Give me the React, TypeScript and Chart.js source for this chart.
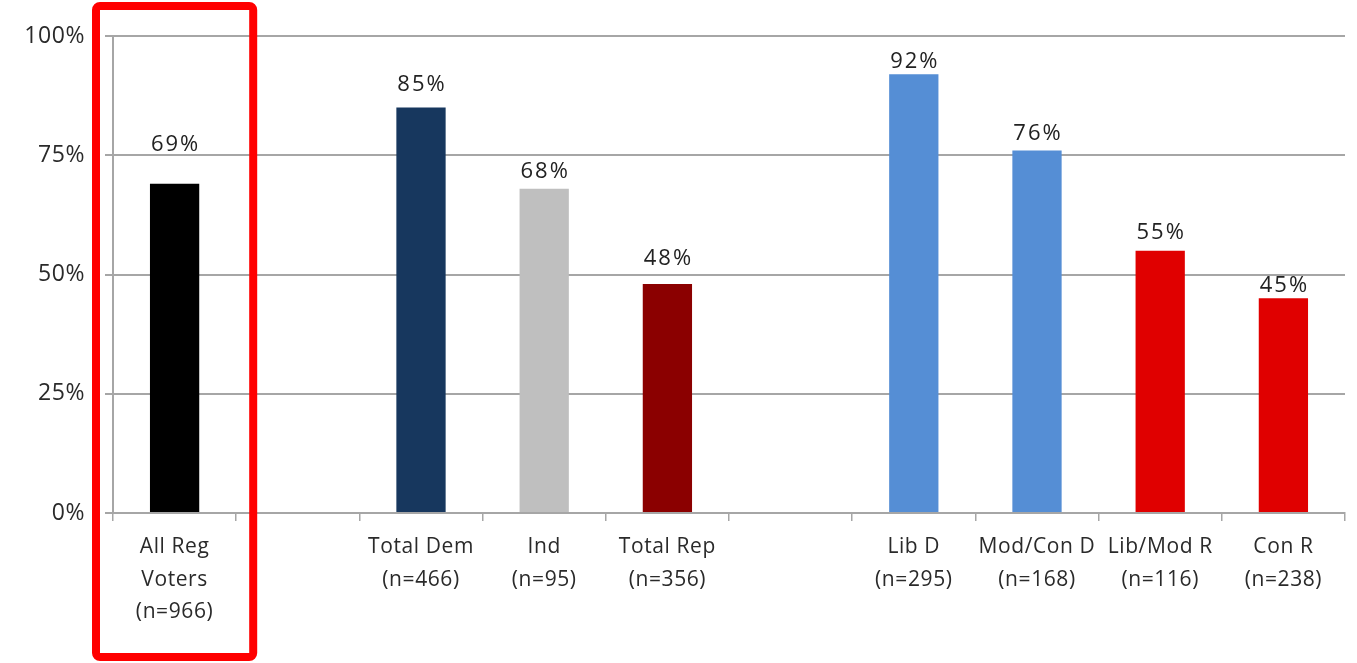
import React, { useEffect, useRef } from "react";
import { Chart, registerables } from "chart.js";

Chart.register(...registerables);

// Categories (blank slots separate the groups)
const categories: (string | string[])[] = [
  ["All Reg", "Voters", "(n=966)"],
  "",
  ["Total Dem", "(n=466)"],
  ["Ind", "(n=95)"],
  ["Total Rep", "(n=356)"],
  "",
  ["Lib D", "(n=295)"],
  ["Mod/Con D", "(n=168)"],
  ["Lib/Mod R", "(n=116)"],
  ["Con R", "(n=238)"],
];

// Percent values per category
const values: (number | null)[] = [69, null, 85, 68, 48, null, 92, 76, 55, 45];

// Bar colours per category
const barColors: string[] = [
  "#000000",
  "transparent",
  "#17375e",
  "#bfbfbf",
  "#8b0000",
  "transparent",
  "#558ed5",
  "#558ed5",
  "#e00000",
  "#e00000",
];

// Distance (px) from a bar's top to the centre of its value label
const labelLift: number[] = [39, 0, 23, 17, 25, 0, 12, 17, 18, 13];

const yTicks: number[] = [0, 25, 50, 75, 100];

const FONT = "'Open Sans', 'Noto Sans', sans-serif";

// Slightly wider tracking for all axis text
const tracking = {
  id: "tracking",
  beforeDraw(chart: any) {
    chart.ctx.letterSpacing = "0.6px";
  },
};

const valueLabels = {
  id: "valueLabels",
  afterDatasetsDraw(chart: any) {
    const ctx = chart.ctx;
    const meta = chart.getDatasetMeta(0);
    ctx.save();
    ctx.font = `22px ${FONT}`;
    ctx.letterSpacing = "2px";
    ctx.fillStyle = "#222222";
    ctx.textAlign = "center";
    ctx.textBaseline = "middle";
    meta.data.forEach((bar: any, i: number) => {
      const v = values[i];
      if (v == null) return;
      ctx.fillText(`${v}%`, bar.x + 1, bar.y - labelLift[i]);
    });
    ctx.restore();
  },
};

// Red highlight frame around the first category
const highlightFrame = {
  id: "highlightFrame",
  afterDraw(chart: any) {
    const ctx = chart.ctx;
    const x = chart.scales.x;
    const half = (x.getPixelForValue(1) - x.getPixelForValue(0)) / 2;
    const cx = x.getPixelForValue(0);
    const left = cx - half - 17;
    const right = cx + half + 17;
    ctx.save();
    ctx.strokeStyle = "#ff0000";
    ctx.lineWidth = 8;
    ctx.beginPath();
    ctx.roundRect(left, 6, right - left, 651, 4);
    ctx.stroke();
    ctx.restore();
  },
};

export default function App() {
  const canvasRef = useRef<HTMLCanvasElement | null>(null);

  useEffect(() => {
    document.body.style.margin = "0";
    const canvas = canvasRef.current;
    if (!canvas) return;
    const chart = new Chart(canvas, {
      type: "bar",
      data: {
        labels: categories,
        datasets: [
          {
            data: values,
            backgroundColor: barColors,
            barPercentage: 0.4,
            categoryPercentage: 1,
          },
        ],
      },
      options: {
        animation: false,
        responsive: false,
        maintainAspectRatio: false,
        layout: { padding: { top: 36, right: 12, left: 0, bottom: 0 } },
        plugins: {
          legend: { display: false },
          tooltip: { enabled: false },
        },
        scales: {
          x: {
            grid: {
              display: true,
              drawOnChartArea: false,
              offset: true,
              tickLength: 8,
              color: "#a6a6a6",
              lineWidth: 1.5,
            },
            border: { display: true, color: "#a6a6a6", width: 2 },
            ticks: {
              color: "#2a2a2a",
              font: { family: FONT, size: 21, lineHeight: 1.55 },
              padding: 10,
              maxRotation: 0,
              autoSkip: false,
            },
            afterFit(scale: any) {
              scale.height = 150;
            },
          },
          y: {
            min: 0,
            max: 100,
            afterBuildTicks(scale: any) {
              scale.ticks = yTicks.map((v) => ({ value: v }));
            },
            grid: {
              color: "#a6a6a6",
              lineWidth: 2,
              tickLength: 8,
            },
            border: { display: true, color: "#a6a6a6", width: 2 },
            ticks: {
              color: "#2a2a2a",
              font: { family: FONT, size: 23 },
              padding: 20,
              callback: (v: any) => `${v}%`,
            },
            afterFit(scale: any) {
              scale.width = 113;
            },
          },
        },
      },
      plugins: [tracking, valueLabels, highlightFrame],
    });
    return () => chart.destroy();
  }, []);

  return (
    <div style={{ width: 1357, height: 663, background: "#ffffff" }}>
      <canvas ref={canvasRef} width={1357} height={663} style={{ display: "block" }} />
    </div>
  );
}
